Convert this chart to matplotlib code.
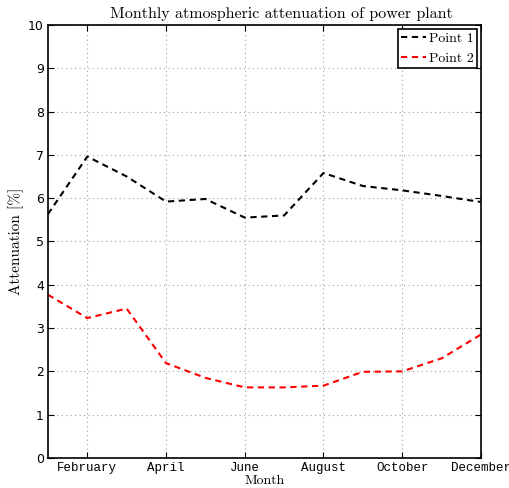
import matplotlib
matplotlib.use("Agg")
import matplotlib.pyplot as plt

months = [1, 2, 3, 4, 5, 6, 7, 8, 9, 10, 11, 12]
point1 = [5.63, 6.96, 6.50, 5.92, 5.98, 5.55, 5.60, 6.58, 6.28, 6.18, 6.05, 5.91]
point2 = [3.77, 3.23, 3.45, 2.19, 1.85, 1.63, 1.63, 1.67, 1.99, 2.00, 2.30, 2.85]
tick_pos = [2, 4, 6, 8, 10, 12]
tick_labels = ["February", "April", "June", "August", "October", "December"]

serif = ["cmr10", "DejaVu Serif"]

fig = plt.figure(figsize=(5.10, 4.88), dpi=100)
ax = fig.add_axes([0.094, 0.0615, 0.849, 0.8875])

ax.plot(months, point1, color="black", linestyle=(0, (3, 2.2)), linewidth=1.5, label="Point 1")
ax.plot(months, point2, color="red", linestyle=(0, (3, 2.2)), linewidth=1.5, label="Point 2")

ax.set_xlim(1, 12)
ax.set_ylim(0, 10)
ax.set_yticks(range(0, 11))
ax.set_xticks(tick_pos)
ax.set_xticklabels(tick_labels, family="Liberation Mono", fontsize=9)
for lab in ax.get_yticklabels():
    lab.set_fontsize(9)
ax.tick_params(direction="in", top=True, right=True, length=4, pad=3)
ax.grid(True, linestyle=(0, (1, 3)), color="#a0a0a0", linewidth=0.8)
for s in ax.spines.values():
    s.set_linewidth(1.2)

ax.set_title("Monthly atmospheric attenuation of power plant", family=serif, fontsize=11.5, pad=5, x=0.538)
ax.set_xlabel("Month", family=serif, fontsize=10, labelpad=0.5)
ax.set_ylabel("Attenuation [%]", family=serif, fontsize=11, labelpad=3)

leg = ax.legend(loc="upper right", handlelength=1.85, handletextpad=0.2, borderaxespad=0.3,
                borderpad=0.2, labelspacing=0.55,
                fancybox=False, framealpha=1, edgecolor="black",
                prop={"family": serif, "size": 10})
leg.get_frame().set_linewidth(1.2)

fig.savefig("out.png", dpi=100)
